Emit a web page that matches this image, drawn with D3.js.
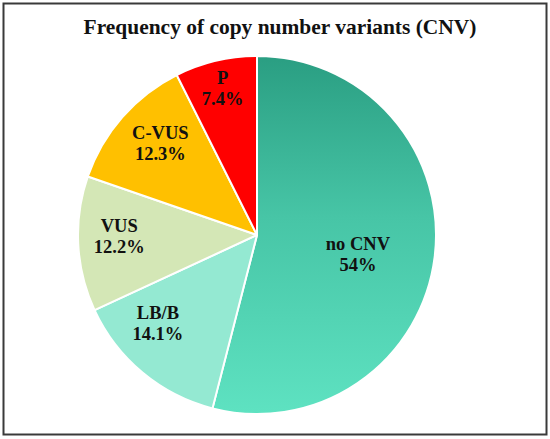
<!DOCTYPE html>
<html>
<head>
<meta charset="utf-8">
<script src="https://cdn.jsdelivr.net/npm/d3@7"></script>
<style>
  html, body { margin: 0; padding: 0; background: #fff; }
  svg { display: block; }
</style>
</head>
<body>
<svg id="chart" width="550" height="439"></svg>
<script>
// ---- data ----
const title = "Frequency of copy number variants (CNV)";
const categories = ["no CNV", "LB/B", "VUS", "C-VUS", "P"];
const values = [54, 14.1, 12.2, 12.3, 7.4];
const valueLabels = ["54%", "14.1%", "12.2%", "12.3%", "7.4%"];

// ---- styling / placement (not data) ----
const colors = ["url(#gradNoCNV)", "#94e9d2", "#d4e7b6", "#ffc000", "#ff0000"];
const labelRadiusFrac = [0.57, 0.726, 0.77, 0.76, 0.865];
const labelAngleShiftDeg = [1.2, 9.9, 4.2, 3.5, 0.5];

const W = 550, H = 439;
const cx = 257, cy = 235, R = 179;

const svg = d3.select("#chart");

// frame
svg.append("rect")
  .attr("x", 3.5).attr("y", 3.5)
  .attr("width", 543).attr("height", 431)
  .attr("fill", "#fff")
  .attr("stroke", "#3a3a3a")
  .attr("stroke-width", 2);

// gradient for no CNV (coordinates relative to the pie group)
const defs = svg.append("defs");
const g1 = defs.append("linearGradient")
  .attr("id", "gradNoCNV")
  .attr("gradientUnits", "userSpaceOnUse")
  .attr("x1", 0).attr("y1", -R)
  .attr("x2", 0).attr("y2", R);
g1.append("stop").attr("offset", "0%").attr("stop-color", "#2a9e82");
g1.append("stop").attr("offset", "45%").attr("stop-color", "#47c5a6");
g1.append("stop").attr("offset", "100%").attr("stop-color", "#5ee2c1");

// title
const t = svg.append("text")
  .attr("x", 280).attr("y", 34)
  .attr("text-anchor", "middle")
  .attr("font-family", "'Liberation Serif', 'Times New Roman', serif")
  .attr("font-weight", "bold")
  .attr("font-size", 22)
  .attr("fill", "#111")
  .text(title);
const targetW = 393;
const len = t.node().getComputedTextLength();
if (len > 0) t.attr("font-size", 22 * targetW / len);

// pie
const pie = d3.pie().sort(null).value(d => d.v);
const data = categories.map((c, i) => ({ c, v: values[i], lab: valueLabels[i], i }));
const arcs = pie(data);
const arc = d3.arc().innerRadius(0).outerRadius(R);

const g = svg.append("g").attr("transform", `translate(${cx},${cy})`);

g.selectAll("path.slice")
  .data(arcs)
  .enter().append("path")
  .attr("class", "slice")
  .attr("d", arc)
  .attr("fill", d => colors[d.data.i])
  .attr("stroke", "#ffffff")
  .attr("stroke-width", 2)
  .attr("stroke-linejoin", "round");

// labels
const labels = g.selectAll("text.lbl")
  .data(arcs)
  .enter().append("text")
  .attr("class", "lbl")
  .attr("text-anchor", "middle")
  .attr("font-family", "'Liberation Serif', 'Times New Roman', serif")
  .attr("font-weight", "bold")
  .attr("font-size", 18.5)
  .attr("fill", "#111")
  .attr("transform", d => {
    const i = d.data.i;
    const a = (d.startAngle + d.endAngle) / 2 + labelAngleShiftDeg[i] * Math.PI / 180;
    const r = R * labelRadiusFrac[i];
    const x = r * Math.sin(a), y = -r * Math.cos(a);
    return `translate(${x},${y})`;
  });
labels.append("tspan").attr("x", 0).attr("y", 0).text(d => d.data.c);
labels.append("tspan").attr("x", 0).attr("y", 21).text(d => d.data.lab);
</script>
</body>
</html>
